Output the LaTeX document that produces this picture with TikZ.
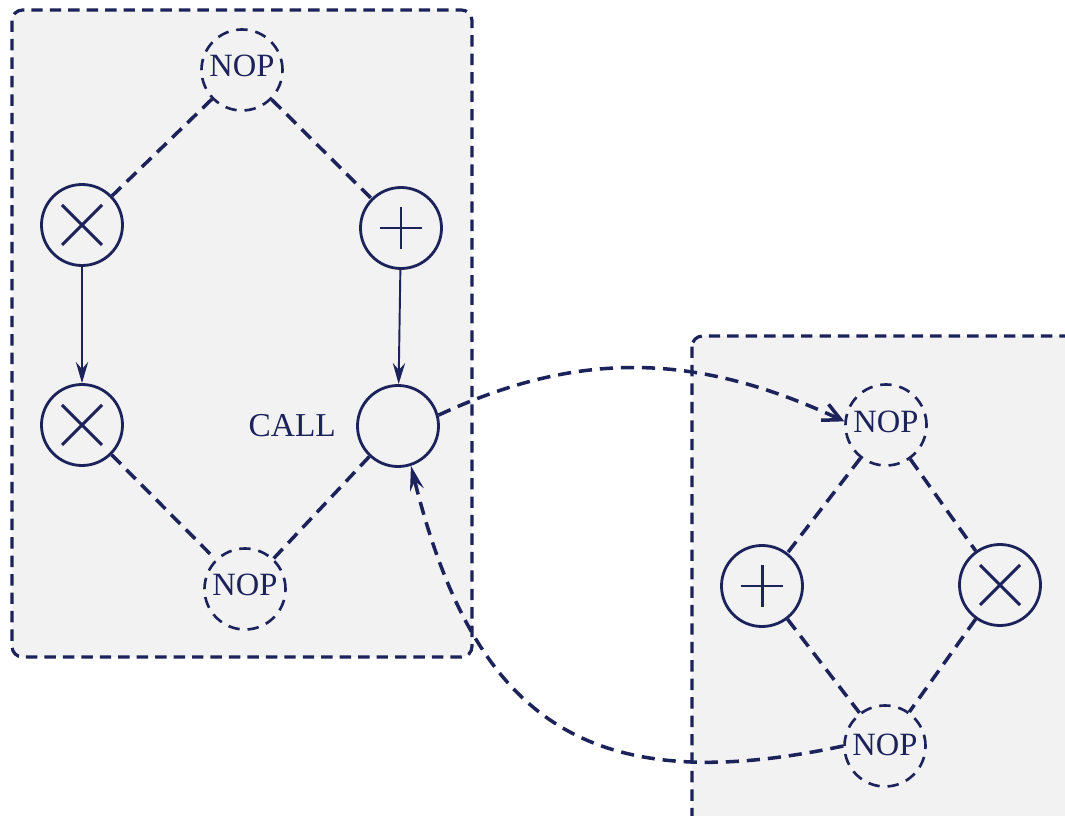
\documentclass[tikz,border=0pt]{standalone}
\usepackage{fontspec}
\setmainfont{Liberation Serif}
\usepackage{xcolor}
\usepackage{tikz}
\usetikzlibrary{arrows.meta, positioning}
\definecolor{ink}{RGB}{28,34,90}
\definecolor{panel}{RGB}{242,242,243}

\begin{document}
\begin{tikzpicture}[
		region/.style={draw=ink, fill=panel, rounded corners=6pt, line width=1.8pt, dash pattern=on 6.5pt off 4pt},
		op/.style={circle, draw=ink, line width=1.6pt, minimum size=1.62cm, inner sep=0pt},
		mul/.style={op, path picture={\draw[ink, line width=1.7pt] (path picture bounding box.center) ++(-0.4,-0.4) -- ++(0.8,0.8) ++(-0.8,0) -- ++(0.8,-0.8);}},
		add/.style={op, path picture={\draw[ink, line width=1.7pt] (path picture bounding box.center) ++(-0.42,0) -- ++(0.84,0) ++(-0.42,-0.42) -- ++(0,0.84);}},
		nop/.style={circle, draw=ink, line width=1.5pt, dash pattern=on 6.5pt off 4.5pt, minimum size=1.62cm, inner sep=0pt, text=ink, font=\fontsize{18.5}{20}\selectfont},
		flow/.style={ink, line width=2pt, dash pattern=on 7.5pt off 4.5pt},
		seq/.style={ink, line width=1.1pt, -{Stealth[length=12pt,width=7pt,inset=4pt]}}
	]
		\useasboundingbox (0,0) rectangle (21.3,-16.32);

		% the two procedure bodies
		\draw[region] (0.24,-0.20) rectangle (9.44,-13.14);
		\draw[region] (13.84,-6.72) rectangle (21.9,-16.9);

		% caller
		\node[nop] (NOP1) at (4.84,-1.40) {\raisebox{5pt}{NOP}};
		\node[mul] (mulA) at (1.64,-4.50) {};
		\node[add] (addA) at (8.02,-4.56) {};
		\node[mul] (mulB) at (1.64,-8.50) {};
		\node[op] (call) at (7.96,-8.52) {};
		\node[left=0.28cm of call, text=ink, font=\fontsize{19}{21}\selectfont] (callname) {CALL};
		\node[nop] (NOP2) at (4.90,-11.78) {\raisebox{5pt}{NOP}};

		% callee
		\node[nop] (NOP3) at (17.72,-8.50) {\raisebox{4pt}{NOP}};
		\node[add] (addB) at (15.24,-11.72) {};
		\node[mul] (mulC) at (20.00,-11.70) {};
		\node[nop] (NOP4) at (17.70,-14.92) {\raisebox{1pt}{NOP}};

		\draw[flow] (NOP1) -- (mulA);
		\draw[flow] (NOP1) -- (addA);
		\draw[seq] (mulA) -- (mulB);
		\draw[seq] (addA) -- (call);
		\draw[flow] (mulB) -- (NOP2);
		\draw[flow] (call) -- (NOP2);

		\draw[flow] (NOP3) -- (addB);
		\draw[flow] (NOP3) -- (mulC);
		\draw[flow] (addB) -- (NOP4);
		\draw[flow] (mulC) -- (NOP4);

		% call and return
		\draw[flow, -{Straight Barb[length=10pt,width=10pt]}] (call.15) to[out=25, in=155] (NOP3.175);
		\draw[flow, -{Stealth[length=14pt,width=8pt,inset=5pt]}] (NOP4.west) to[out=192, in=-76, looseness=1.3] (call.-72);
	\end{tikzpicture}
\end{document}
